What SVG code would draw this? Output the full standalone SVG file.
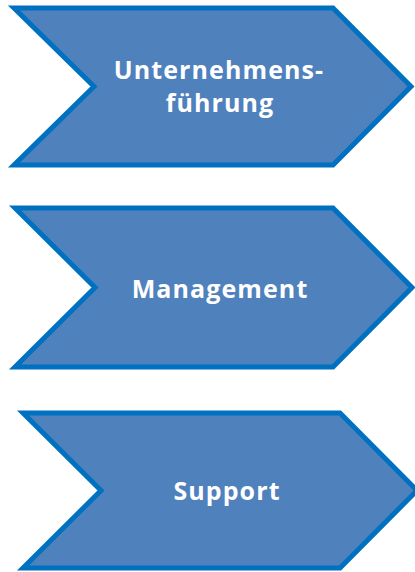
<svg xmlns="http://www.w3.org/2000/svg" width="415" height="572" viewBox="0 0 415 572">
<style>
.chev{fill:#4f81bd;stroke:#0070c0;stroke-width:5;stroke-linejoin:miter}
.lbl{font-family:"Open Sans","Liberation Sans",Arial,sans-serif;font-weight:bold;font-size:25px;fill:#ffffff;text-anchor:middle;letter-spacing:1.1px}
</style>
<rect width="415" height="572" fill="#ffffff"/>
<g id="connectors"></g>
<g id="node-unternehmensfuehrung">
<polygon class="chev" points="14,8 333,8 411,86.5 333,165 14,165 94,86.5"/>
<text class="lbl" x="219" y="79">Unternehmens-</text>
<text class="lbl" x="220" y="112">führung</text>
</g>
<g id="node-management">
<polygon class="chev" points="15,208 333,208 412,287.5 333,367 15,367 95,287.5"/>
<text class="lbl" x="220" y="298">Management</text>
</g>
<g id="node-support">
<polygon class="chev" points="23,413 340,413 417,490.5 340,568 23,568 101,490.5"/>
<text class="lbl" x="227" y="500">Support</text>
</g>
</svg>
